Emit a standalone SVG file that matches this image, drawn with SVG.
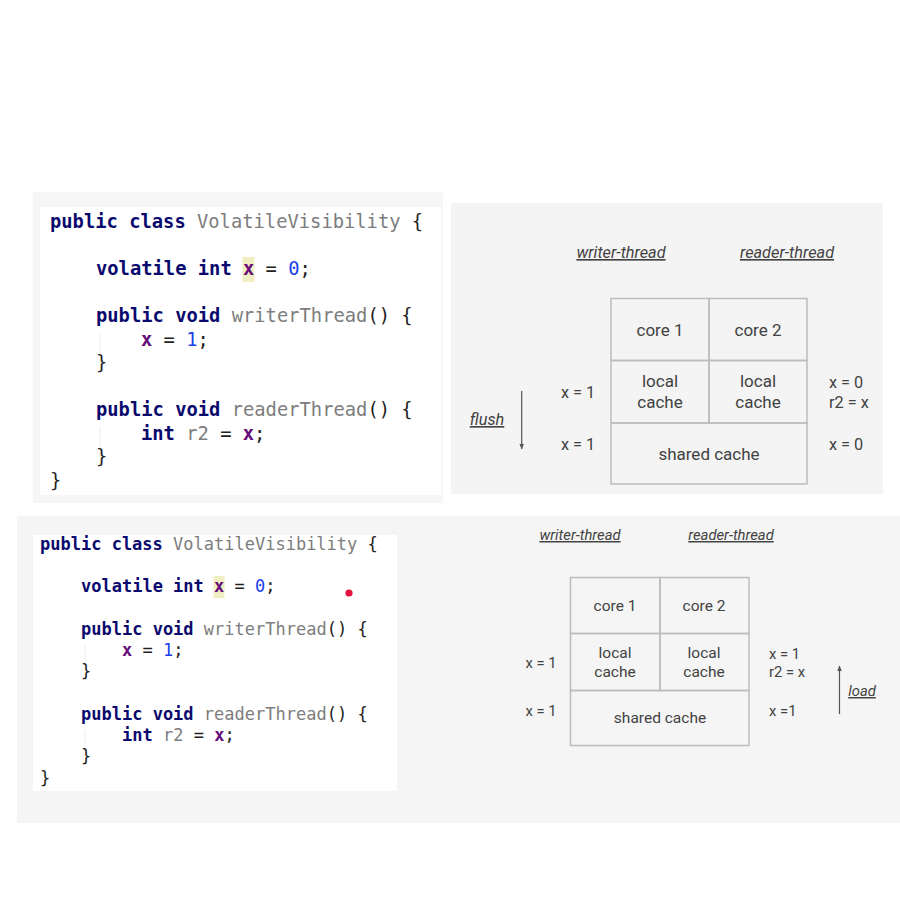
<svg xmlns="http://www.w3.org/2000/svg" width="900" height="900" viewBox="0 0 900 900">
<style>
.code1{font-family:"DejaVu Sans Mono",monospace;font-size:18.8px;fill:#222}
.code2{font-family:"DejaVu Sans Mono",monospace;font-size:17px;fill:#222}
.kw{font-weight:bold;fill:#0a0a6e}
.nm{fill:#7d7d7d}
.vr{font-weight:bold;fill:#660e7a}
.num{fill:#1a3ee8}
.d1{font-family:Roboto,"Liberation Sans",sans-serif;font-size:17px;fill:#424242;text-anchor:middle}
.d2{font-family:Roboto,"Liberation Sans",sans-serif;font-size:15.5px;fill:#424242;text-anchor:middle}
.s1{font-family:Roboto,"Liberation Sans",sans-serif;font-size:16.3px;fill:#424242}
.s2{font-family:Roboto,"Liberation Sans",sans-serif;font-size:14.8px;fill:#424242}
.lab{font-style:italic;text-decoration:underline}
.cell{fill:none;stroke:#bdbdbd;stroke-width:1.5}
.guide{stroke:#ececec;stroke-width:1}
.arr{stroke:#555;stroke-width:1.2;fill:none}
</style>
<defs>
<marker id="ah" viewBox="0 0 10 10" refX="9" refY="5" markerWidth="5" markerHeight="5" orient="auto">
<path d="M0,1 L10,5 L0,9 Z" fill="#555"/>
</marker>
</defs>
<rect width="900" height="900" fill="#ffffff"/>

<!-- panels -->
<rect x="33" y="192" width="410" height="311" fill="#f6f6f6"/>
<rect x="40" y="207" width="401" height="288" fill="#ffffff"/>
<rect x="451" y="203" width="432" height="291" fill="#f4f4f4"/>
<rect x="17" y="516" width="883" height="307" fill="#f5f5f5"/>
<rect x="33" y="535" width="364" height="256" fill="#ffffff"/>

<!-- top code -->
<g id="code-top">
<rect x="242.5" y="257" width="12" height="25" fill="#f2eec4"/>
<line class="guide" x1="100" y1="333" x2="100" y2="362"/>
<line class="guide" x1="100" y1="427" x2="100" y2="456"/>
<text class="code1" x="50" y="228" xml:space="preserve"><tspan class="kw">public class</tspan> <tspan class="nm">VolatileVisibility</tspan> {</text>
<text class="code1" x="96" y="275" xml:space="preserve"><tspan class="kw">volatile int</tspan> <tspan class="vr">x</tspan> = <tspan class="num">0</tspan>;</text>
<text class="code1" x="96" y="322" xml:space="preserve"><tspan class="kw">public void</tspan> <tspan class="nm">writerThread</tspan>() {</text>
<text class="code1" x="141" y="345.5" xml:space="preserve"><tspan class="vr">x</tspan> = <tspan class="num">1</tspan>;</text>
<text class="code1" x="96" y="369">}</text>
<text class="code1" x="96" y="416" xml:space="preserve"><tspan class="kw">public void</tspan> <tspan class="nm">readerThread</tspan>() {</text>
<text class="code1" x="141" y="439.5" xml:space="preserve"><tspan class="kw">int</tspan> <tspan class="nm">r2</tspan> = <tspan class="vr">x</tspan>;</text>
<text class="code1" x="96" y="463">}</text>
<text class="code1" x="50" y="486.5">}</text>
</g>

<!-- bottom code -->
<g id="code-bottom">
<rect x="213.5" y="576" width="11" height="22" fill="#f2eec4"/>
<line class="guide" x1="85" y1="645" x2="85" y2="670"/>
<line class="guide" x1="85" y1="730" x2="85" y2="756"/>
<text class="code2" x="40" y="550" xml:space="preserve"><tspan class="kw">public class</tspan> <tspan class="nm">VolatileVisibility</tspan> {</text>
<text class="code2" x="81" y="592" xml:space="preserve"><tspan class="kw">volatile int</tspan> <tspan class="vr">x</tspan> = <tspan class="num">0</tspan>;</text>
<text class="code2" x="81" y="635" xml:space="preserve"><tspan class="kw">public void</tspan> <tspan class="nm">writerThread</tspan>() {</text>
<text class="code2" x="122" y="656" xml:space="preserve"><tspan class="vr">x</tspan> = <tspan class="num">1</tspan>;</text>
<text class="code2" x="81" y="677">}</text>
<text class="code2" x="81" y="720" xml:space="preserve"><tspan class="kw">public void</tspan> <tspan class="nm">readerThread</tspan>() {</text>
<text class="code2" x="122" y="741" xml:space="preserve"><tspan class="kw">int</tspan> <tspan class="nm">r2</tspan> = <tspan class="vr">x</tspan>;</text>
<text class="code2" x="81" y="762">}</text>
<text class="code2" x="40" y="784">}</text>
<circle cx="349" cy="593" r="3.6" fill="#e3123f"/>
</g>

<!-- top diagram -->
<g id="top-core1"><rect class="cell" x="611" y="298.5" width="98" height="62"/><text class="d1" x="660" y="336">core 1</text></g>
<g id="top-core2"><rect class="cell" x="709" y="298.5" width="98" height="62"/><text class="d1" x="758" y="336">core 2</text></g>
<g id="top-local1"><rect class="cell" x="611" y="360.5" width="98" height="62.5"/><text class="d1" x="660" y="387">local</text><text class="d1" x="660" y="408">cache</text></g>
<g id="top-local2"><rect class="cell" x="709" y="360.5" width="98" height="62.5"/><text class="d1" x="758" y="387">local</text><text class="d1" x="758" y="408">cache</text></g>
<g id="top-shared"><rect class="cell" x="611" y="423" width="196" height="61"/><text class="d1" x="709" y="460">shared cache</text></g>
<g id="top-labels">
<text class="s1 lab" x="621" y="258" text-anchor="middle">writer-thread</text>
<text class="s1 lab" x="787" y="258" text-anchor="middle">reader-thread</text>
<text class="s1" x="578" y="398" text-anchor="middle">x = 1</text>
<text class="s1" x="578" y="450" text-anchor="middle">x = 1</text>
<text class="s1" x="829" y="388">x = 0</text>
<text class="s1" x="829" y="408">r2 = x</text>
<text class="s1" x="829" y="450">x = 0</text>
<text class="s1 lab" x="487" y="425" text-anchor="middle">flush</text>
</g>

<!-- bottom diagram -->
<g id="bot-core1"><rect class="cell" x="570.5" y="577.5" width="89.5" height="56"/><text class="d2" x="615" y="611">core 1</text></g>
<g id="bot-core2"><rect class="cell" x="660" y="577.5" width="89" height="56"/><text class="d2" x="704" y="611">core 2</text></g>
<g id="bot-local1"><rect class="cell" x="570.5" y="633.5" width="89.5" height="57"/><text class="d2" x="615" y="658">local</text><text class="d2" x="615" y="677">cache</text></g>
<g id="bot-local2"><rect class="cell" x="660" y="633.5" width="89" height="57"/><text class="d2" x="704" y="658">local</text><text class="d2" x="704" y="677">cache</text></g>
<g id="bot-shared"><rect class="cell" x="570.5" y="690.5" width="178.5" height="55"/><text class="d2" x="660" y="723">shared cache</text></g>
<g id="bot-labels">
<text class="s2 lab" x="580" y="540" text-anchor="middle">writer-thread</text>
<text class="s2 lab" x="731" y="540" text-anchor="middle">reader-thread</text>
<text class="s2" x="541" y="668" text-anchor="middle">x = 1</text>
<text class="s2" x="541" y="716" text-anchor="middle">x = 1</text>
<text class="s2" x="769" y="659">x = 1</text>
<text class="s2" x="769" y="677">r2 = x</text>
<text class="s2" x="769" y="716">x =1</text>
<text class="s2 lab" x="862" y="696" text-anchor="middle">load</text>
</g>

<!-- connectors -->
<g id="connectors">
<line class="arr" x1="521.7" y1="391" x2="521.7" y2="449" marker-end="url(#ah)"/>
<line class="arr" x1="839.5" y1="714" x2="839.5" y2="666" marker-end="url(#ah)"/>
</g>
</svg>
